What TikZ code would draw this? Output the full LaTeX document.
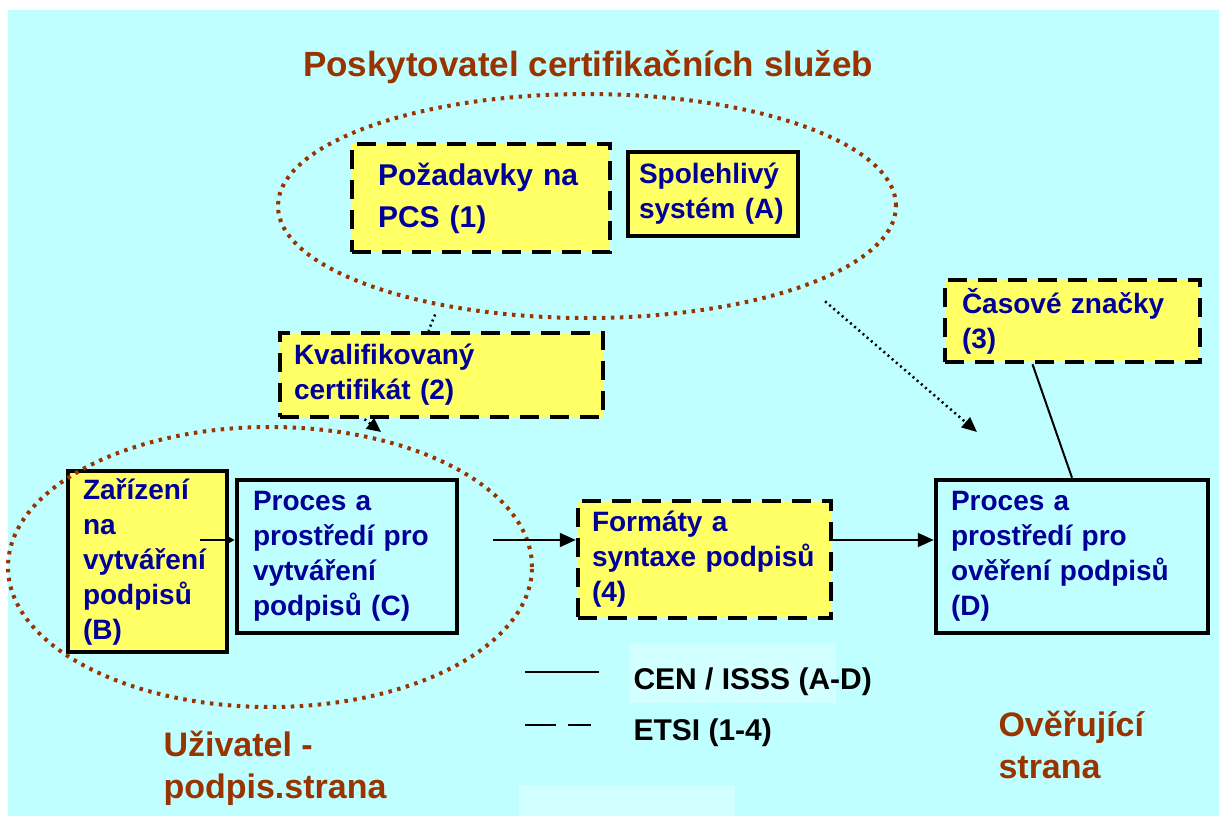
\documentclass[tikz,border=0pt]{standalone}
\usepackage{fontspec}
\setmainfont{Liberation Sans}
\usepackage{xcolor}
\usetikzlibrary{arrows.meta, shapes.geometric, calc}
\definecolor{bgcyan}{HTML}{C0FFFF}
\definecolor{patchcyan}{HTML}{D2FFFF}
\definecolor{boxyellow}{HTML}{FFFF66}
\definecolor{textblue}{HTML}{000099}
\definecolor{ringbrown}{HTML}{993300}

\begin{document}
\begin{tikzpicture}[x=1pt, y=-1pt,
	card/.style={inner sep=0pt, align=left, text=textblue, line width=4.5pt,
		font=\fontsize{28}{35}\selectfont\bfseries},
	dashcard/.style={card, draw, fill=boxyellow, dash pattern=on 19pt off 11pt},
	yellowcard/.style={card, draw, fill=boxyellow},
	plaincard/.style={card, draw},
	ring/.style={ellipse, draw=ringbrown, line width=4pt, dash pattern=on 3.5pt off 5.5pt, inner sep=0pt},
	party/.style={anchor=base west, align=left, text=ringbrown, font=\fontsize{34}{42}\selectfont\bfseries},
	keytext/.style={anchor=base west, font=\fontsize{30}{36}\selectfont\bfseries},
	flow/.style={line width=2pt, -{Triangle[length=16pt, width=14pt]}},
	dotlink/.style={line width=2.5pt, dash pattern=on 2pt off 3.5pt}]
	\useasboundingbox (0,0) rectangle (1219,816);
	\fill [bgcyan] (8,10) rectangle (1219,816);
	\fill [patchcyan] (630,643) rectangle (836,703);
	\fill [patchcyan] (519,785) rectangle (735,816);

	\node [anchor=base, text=ringbrown, font=\fontsize{35}{42}\selectfont\bfseries] (csp) at (588,77) {Poskytovatel certifikačních služeb};

	\node [dashcard, minimum width=258, minimum height=108, text width=206pt, font=\fontsize{30}{42}\selectfont\bfseries] (pcsreq) at (481,198) {Požadavky na\\PCS (1)};
	\node [yellowcard, minimum width=170, minimum height=84, text width=148pt] (trustsys) at (713,194) {Spolehlivý\\systém (A)};
	\node [dashcard, minimum width=255, minimum height=82, text width=221pt] (tsa) at (1072.5,321) {Časové značky\\(3)};
	\node [dashcard, minimum width=323, minimum height=84, text width=295pt] (qcert) at (441.5,375) {Kvalifikovaný\\certifikát (2)};
	\node [yellowcard, minimum width=159, minimum height=181, text width=129pt] (devB) at (147.5,561.5) {Zařízení\\na\\vytváření\\podpisů\\(B)};
	\node [plaincard, minimum width=220, minimum height=153, text width=188pt] (procC) at (347,556.5) {Proces a\\prostředí pro\\vytváření\\podpisů (C)};
	\node [dashcard, minimum width=253, minimum height=117, text width=225pt] (fmt) at (704.5,559.5) {Formáty a\\syntaxe podpisů\\(4)};
	\node [plaincard, minimum width=272, minimum height=153, text width=242pt] (procD) at (1072,556.5) {Proces a\\prostředí pro\\ověření podpisů\\(D)};

	\node [ring, minimum width=618, minimum height=224] (pcsring) at (587,206) {};
	\node [ring, minimum width=524, minimum height=280] (userring) at (270,567) {};

	\coordinate (flowrow) at (0,540);
	\coordinate (certtip) at (381,432);
	\coordinate (verifytip) at (977,432);
	\draw [line width=2pt, -{Triangle[length=8pt, width=8pt]}] ($(devB.east |- flowrow)+(-29,0)$) -- (procC.west |- flowrow);
	\draw [flow, shorten <=34pt] (procC.east |- flowrow) -- (fmt.west |- flowrow);
	\draw [flow] (fmt.east |- flowrow) -- (procD.west |- flowrow);
	\draw [line width=2pt] ($(tsa.south)+(-40,0)$) -- (procD.north);
	\draw [dotlink, shorten <=9pt] (pcsring.214) -- ($(qcert.north)+(-13,0)$);
	\draw [dotlink, shorten <=23pt, -{Triangle[length=15pt, width=13pt]}] (pcsring.340) -- (verifytip);
	\draw [dotlink, -{Triangle[length=14pt, width=13pt]}] ($(qcert.south)+(-77,0)$) -- (certtip);
%	\fill (flowrow) circle (2pt);

	\node [keytext] (cenkey) at (630,689) {CEN / ISSS (A-D)};
	\node [keytext] (etsikey) at (630,740) {ETSI (1-4)};
	\draw [line width=2pt] ($(cenkey.base west)+(-105,-17)$) -- ++(74,0);
	\draw [line width=2pt, dash pattern=on 31pt off 12pt] ($(etsikey.base west)+(-105,-15)$) -- ++(66,0);

	\node [party] (signer) at (160,798) {Uživatel -\\podpis.strana};
	\node [party] (verifier) at (995,778) {Ověřující\\strana};
\end{tikzpicture}
\end{document}
